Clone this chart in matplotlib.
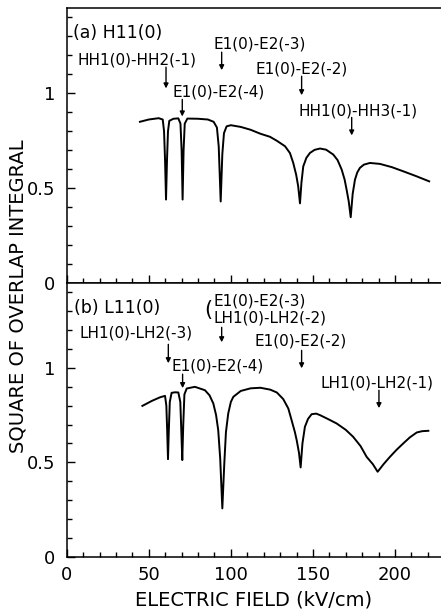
import matplotlib
matplotlib.use("Agg")
import matplotlib.pyplot as plt
from matplotlib.ticker import MultipleLocator

# ---------------- data ----------------
a_field = [44.6, 50, 56, 58.5, 59.3, 59.9, 60.5, 61.1, 61.7, 62.5,
           65, 68, 69.3, 70.0, 70.6, 71.2, 71.9, 73.5, 80, 86,
           89.5, 91.5, 92.6, 93.8, 94.8, 95.8, 97.4, 100, 106, 112,
           118, 123.8, 128, 133, 136, 138, 139.8, 141, 142.1, 143,
           144.1, 146, 148.2, 151, 154.3, 158, 162.4, 165, 167.5, 169.3,
           170.5, 171.8, 173, 174.2, 175.6, 177, 178.6, 181, 184.7, 190.8,
           198, 205, 213, 220.8]
a_overlap = [0.85, 0.862, 0.869, 0.862, 0.80, 0.65, 0.44, 0.65, 0.80, 0.855,
             0.866, 0.868, 0.84, 0.70, 0.44, 0.70, 0.84, 0.867, 0.866, 0.862,
             0.85, 0.82, 0.72, 0.43, 0.68, 0.79, 0.826, 0.832, 0.823, 0.808,
             0.787, 0.771, 0.75, 0.721, 0.685, 0.633, 0.57, 0.51, 0.42, 0.53,
             0.615, 0.66, 0.686, 0.702, 0.709, 0.703, 0.677, 0.648, 0.598, 0.545,
             0.492, 0.43, 0.347, 0.47, 0.545, 0.583, 0.607, 0.624, 0.633, 0.628,
             0.611, 0.589, 0.563, 0.536]

b_field = [46.1, 52, 57, 59.9, 60.7, 61.2, 61.7, 62.2, 62.8, 63.9,
           66, 68, 69.2, 69.8, 70.4, 71.0, 71.7, 73.1, 78.1, 84.2,
           87, 89.3, 91, 92.3, 93.5, 94.8, 96, 97, 98.4, 100,
           101.5, 106, 112, 118, 124, 128, 131.9, 135, 137, 139,
           140.1, 141.5, 142.5, 143.6, 145.1, 147, 149.2, 152, 154.3, 159,
           164.4, 170, 174.5, 179, 182.7, 186.5, 189.4, 193, 196.9, 201,
           205, 209, 213.2, 216.5, 220.3]
b_overlap = [0.799, 0.826, 0.845, 0.852, 0.80, 0.67, 0.517, 0.67, 0.82, 0.868,
             0.871, 0.87, 0.82, 0.67, 0.512, 0.70, 0.86, 0.891, 0.90, 0.882,
             0.855, 0.812, 0.75, 0.67, 0.52, 0.256, 0.494, 0.66, 0.759, 0.82,
             0.847, 0.878, 0.892, 0.895, 0.885, 0.87, 0.835, 0.785, 0.723, 0.66,
             0.617, 0.55, 0.473, 0.60, 0.688, 0.73, 0.755, 0.758, 0.75, 0.73,
             0.706, 0.672, 0.635, 0.586, 0.529, 0.49, 0.45, 0.49, 0.529, 0.567,
             0.6, 0.632, 0.658, 0.665, 0.667]

a_title = "(a) H11(0)"
b_title = "(b) L11(0)"
a_labels = ["HH1(0)-HH2(-1)", "E1(0)-E2(-4)", "E1(0)-E2(-3)", "E1(0)-E2(-2)", "HH1(0)-HH3(-1)"]
a_label_field = [60.5, 70.4, 94.4, 143.1, 173.6]
b_labels = ["LH1(0)-LH2(-3)", "E1(0)-E2(-4)", "E1(0)-E2(-3)\nLH1(0)-LH2(-2)", "E1(0)-E2(-2)", "LH1(0)-LH2(-1)"]
b_label_field = [61.9, 70.6, 94.4, 143.1, 190.2]

x_ticks = [0, 50, 100, 150, 200]
y_ticks = [0, 0.5, 1]
y_ticklabels = ["0", "0.5", "1"]
x_label = "ELECTRIC FIELD (kV/cm)"
y_label = "SQUARE OF OVERLAP INTEGRAL"

# ---------------- layout ----------------
W, H = 441, 611
fig = plt.figure(figsize=(W / 100, H / 100), dpi=100)
left = 66.7 / W
ax_top = 1 - 8 / H
ax_mid = 1 - 283 / H
ax_bot = 1 - 556.7 / H
axA = fig.add_axes([left, ax_mid, 1 - left, ax_top - ax_mid])
axB = fig.add_axes([left, ax_bot, 1 - left, ax_mid - ax_bot])

# label layout: (text left x, text center y, arrow tail y, arrow head y)
a_layout = [(6.3, 1.175, 1.138, 1.026),
            (64.7, 1.005, 0.968, 0.878),
            (89.2, 1.262, 1.217, 1.122),
            (115.3, 1.130, 1.090, 0.990),
            (140.9, 0.907, 0.873, 0.778)]
b_layout = [(7.5, 1.184, 1.125, 1.025),
            (64.1, 1.009, 0.967, 0.893),
            (89.2, 1.310, 1.215, 1.136),
            (114.1, 1.141, 1.093, 0.998),
            (154.9, 0.922, 0.882, 0.787)]

tickfont = 13
annfont = 11

for ax, fx, fy, title, labels, lfield, layout in [
        (axA, a_field, a_overlap, a_title, a_labels, a_label_field, a_layout),
        (axB, b_field, b_overlap, b_title, b_labels, b_label_field, b_layout)]:
    ax.plot(fx, fy, color="black", lw=1.4)
    ax.set_xlim(0, 228)
    ax.set_ylim(0, 1.45)
    ax.spines["right"].set_visible(False)
    for s in ax.spines.values():
        s.set_linewidth(1.1)
    ax.set_xticks(x_ticks)
    ax.xaxis.set_minor_locator(MultipleLocator(10))
    ax.set_yticks(y_ticks)
    ax.set_yticklabels(y_ticklabels)
    ax.yaxis.set_minor_locator(MultipleLocator(0.1))
    ax.tick_params(which="both", direction="in", top=False, right=False, width=1)
    ax.tick_params(which="major", length=6)
    ax.tick_params(which="minor", length=3.5)
    ax.tick_params(axis="y", labelsize=tickfont, pad=8)
    ax.tick_params(axis="x", labelsize=tickfont, pad=7)
    ax.text(4.0 if ax is axA else 4.4, 1.317, title, fontsize=12.5,
            ha="left", va="center")
    for lab, xf, (tx, ty, y0, y1) in zip(labels, lfield, layout):
        ax.text(tx, ty, lab, fontsize=annfont, ha="left", va="center",
                linespacing=1.15)
        ax.annotate("", xy=(xf, y1), xytext=(xf, y0),
                    arrowprops=dict(arrowstyle="-|>", lw=1.0, color="black",
                                    mutation_scale=7, shrinkA=0, shrinkB=0))

axA.tick_params(axis="x", labelbottom=False)
# bracket before the paired label in panel (b)
axB.text(83.7, 1.305, "(", fontsize=15, ha="left", va="center")

fig.text(18 / W, 1 - 296.5 / H, y_label, rotation=90, fontsize=14,
         ha="center", va="center")
fig.text((66.7 + 441) / 2 / W, 1 - 600 / H, x_label, fontsize=14,
         ha="center", va="center")

fig.savefig("out.png", dpi=100)
